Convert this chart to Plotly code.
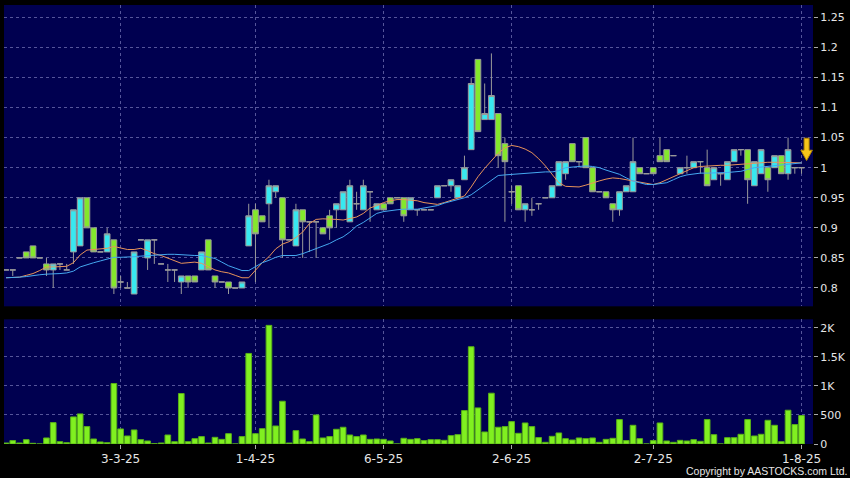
import plotly.graph_objects as go

# ---------------- data ----------------
bar_index = list(range(119))

opens = [0.83,0.83,0.85,0.86,0.87,0.85,0.84,0.83,0.84,0.83,
         0.86,0.87,0.95,0.90,0.86,0.86,0.88,0.81,0.80,0.79,
         0.88,0.85,0.88,0.84,0.83,0.83,0.81,0.82,0.82,0.83,
         0.88,0.82,0.81,0.81,0.80,0.80,0.87,0.93,0.92,0.94,
         0.96,0.95,0.88,0.87,0.93,0.91,0.91,0.90,0.92,0.93,
         0.93,0.91,0.94,0.93,0.96,0.93,0.94,0.95,0.95,0.95,
         0.93,0.93,0.93,0.93,0.95,0.97,0.97,0.95,0.98,1.03,
         1.18,1.08,1.08,1.09,1.04,0.96,0.97,0.93,0.93,0.94,
         0.95,0.95,0.97,0.99,1.04,1.01,1.05,1.00,0.96,0.96,
         0.94,0.93,0.96,0.96,1.00,0.99,1.00,1.02,1.03,1.02,
         0.99,1.00,1.00,1.01,1.00,0.98,0.99,0.98,1.01,1.03,
         1.03,0.97,0.99,1.00,1.00,1.02,0.99,1.00,1.00]
highs = [0.83,0.83,0.85,0.86,0.87,0.85,0.85,0.84,0.84,0.84,
         0.93,0.95,0.95,0.90,0.86,0.90,0.88,0.82,0.81,0.86,
         0.88,0.88,0.88,0.84,0.84,0.83,0.82,0.82,0.82,0.86,
         0.88,0.82,0.81,0.81,0.80,0.81,0.94,0.94,0.92,0.98,
         0.97,0.95,0.88,0.94,0.93,0.91,0.91,0.90,0.93,0.94,
         0.96,0.98,0.96,0.98,0.96,0.94,0.94,0.95,0.95,0.95,
         0.95,0.93,0.93,0.93,0.97,0.97,0.98,0.97,1.02,1.15,
         1.18,1.14,1.19,1.09,1.05,0.97,0.97,0.94,0.95,0.94,
         0.95,0.97,1.01,1.01,1.04,1.01,1.05,1.00,0.96,0.96,
         0.94,0.96,0.97,1.05,1.00,0.99,1.00,1.05,1.03,1.02,
         1.00,1.02,1.01,1.01,1.03,1.00,0.99,1.01,1.03,1.03,
         1.03,1.01,1.03,1.00,1.02,1.02,1.05,1.00,1.00]
lows = [0.83,0.82,0.85,0.85,0.85,0.85,0.82,0.80,0.83,0.83,
        0.84,0.87,0.90,0.86,0.86,0.86,0.79,0.80,0.80,0.79,
        0.88,0.83,0.84,0.84,0.81,0.81,0.79,0.80,0.81,0.83,
        0.83,0.80,0.81,0.79,0.80,0.80,0.87,0.81,0.91,0.90,
        0.95,0.85,0.88,0.87,0.85,0.86,0.85,0.89,0.88,0.90,
        0.93,0.91,0.93,0.93,0.91,0.93,0.93,0.94,0.95,0.91,
        0.93,0.92,0.93,0.93,0.95,0.97,0.96,0.95,0.98,1.03,
        1.06,1.08,1.08,1.00,0.91,0.94,0.93,0.91,0.92,0.93,
        0.95,0.95,0.97,0.98,1.01,1.00,1.00,0.96,0.96,0.95,
        0.91,0.92,0.96,0.96,0.99,0.99,0.99,1.01,1.01,1.02,
        0.99,0.99,1.00,0.99,0.97,0.98,0.97,0.98,1.01,1.02,
        0.94,0.97,0.99,0.96,1.00,0.99,0.98,0.99,0.99]
closes = [0.83,0.83,0.85,0.85,0.85,0.85,0.83,0.84,0.84,0.83,
          0.93,0.95,0.90,0.86,0.86,0.89,0.80,0.81,0.80,0.86,
          0.88,0.88,0.88,0.84,0.83,0.83,0.82,0.81,0.81,0.86,
          0.83,0.81,0.81,0.80,0.80,0.81,0.92,0.89,0.91,0.97,
          0.97,0.88,0.88,0.93,0.91,0.91,0.91,0.89,0.90,0.94,
          0.96,0.97,0.94,0.97,0.96,0.94,0.93,0.94,0.95,0.92,
          0.95,0.93,0.93,0.93,0.97,0.97,0.98,0.97,1.00,1.14,
          1.06,1.09,1.12,1.02,1.01,0.96,0.93,0.94,0.93,0.94,
          0.95,0.97,1.01,1.01,1.01,1.01,1.00,0.96,0.96,0.95,
          0.93,0.96,0.97,1.01,0.99,0.99,0.99,1.01,1.01,1.02,
          1.00,1.00,1.01,1.01,0.97,1.00,0.99,1.01,1.03,1.03,
          0.98,1.01,1.03,0.98,1.02,0.99,1.03,1.00,1.00]
volumes = [17,58,17,75,12,0,104,368,40,23,
           466,518,299,86,35,23,1041,259,138,242,
           75,52,6,17,155,40,868,40,92,127,
           17,115,80,178,0,127,1558,178,264,2041,
           310,736,17,230,86,40,500,104,127,253,
           288,155,127,155,80,86,80,52,0,98,
           80,92,58,75,75,63,144,161,575,1673,
           621,207,874,288,299,385,184,362,299,110,
           29,132,190,92,69,104,92,104,29,80,
           98,420,58,322,92,0,58,362,52,29,
           63,52,75,46,420,161,0,109,109,167,
           420,138,167,408,322,40,581,334,489]
ma_short = [0.817,0.817,0.818,0.821,0.824,0.829,0.835,0.835,0.835,0.836,
            0.842,0.855,0.863,0.864,0.865,0.866,0.869,0.867,0.864,0.864,
            0.866,0.862,0.857,0.854,0.850,0.845,0.841,0.842,0.843,0.841,
            0.836,0.830,0.827,0.825,0.821,0.817,0.817,0.830,0.842,0.852,
            0.865,0.873,0.877,0.884,0.893,0.907,0.914,0.915,0.915,0.914,
            0.913,0.915,0.918,0.924,0.933,0.937,0.942,0.945,0.947,0.947,
            0.946,0.945,0.942,0.940,0.939,0.942,0.946,0.950,0.953,0.968,
            0.985,0.999,1.011,1.024,1.033,1.037,1.035,1.031,1.025,1.015,
            1.003,0.989,0.975,0.969,0.968,0.968,0.971,0.975,0.978,0.981,
            0.983,0.982,0.980,0.978,0.976,0.974,0.972,0.975,0.980,0.985,
            0.990,0.996,1.000,1.002,1.003,1.003,1.004,1.004,1.005,1.006,
            1.007,1.008,1.008,1.009,1.009,1.009,1.009,1.009,1.008]
ma_long = [0.817,0.817,0.818,0.819,0.821,0.822,0.823,0.823,0.824,0.825,
           0.828,0.835,0.839,0.842,0.845,0.848,0.851,0.851,0.851,0.852,
           0.853,0.854,0.855,0.855,0.856,0.856,0.855,0.855,0.854,0.854,
           0.852,0.849,0.843,0.837,0.833,0.829,0.829,0.835,0.842,0.846,
           0.851,0.854,0.854,0.854,0.857,0.861,0.865,0.869,0.874,0.880,
           0.885,0.893,0.903,0.909,0.917,0.924,0.927,0.929,0.930,0.931,
           0.931,0.931,0.933,0.935,0.937,0.941,0.944,0.947,0.950,0.955,
           0.963,0.971,0.980,0.987,0.988,0.989,0.990,0.991,0.992,0.992,
           0.993,0.993,0.995,1.000,1.001,1.002,1.003,1.002,1.000,0.996,
           0.992,0.989,0.983,0.978,0.975,0.972,0.972,0.973,0.975,0.980,
           0.985,0.988,0.990,0.991,0.991,0.991,0.991,0.992,0.993,0.994,
           0.997,1.000,1.001,1.002,1.003,1.004,1.005,1.006,1.008]

date_tick_index = [17, 37, 56, 75, 96, 118]
date_tick_labels = ["3-3-25", "1-4-25", "6-5-25", "2-6-25", "2-7-25", "1-8-25"]
price_ticks = [0.8, 0.85, 0.9, 0.95, 1.0, 1.05, 1.1, 1.15, 1.2, 1.25]
price_tick_labels = ["0.8", "0.85", "0.9", "0.95", "1", "1.05", "1.1", "1.15", "1.2", "1.25"]
vol_ticks = [0, 500, 1000, 1500, 2000]
vol_tick_labels = ["0", "500", "1K", "1.5K", "2K"]

# ---------------- styling ----------------
NAVY = "#000050"
GRID = "#55559a"
CYAN = "#38e8f0"
GREEN = "#84e82c"
EDGE = "#9a9a9a"
TXT = "#e6e6e6"
FONT = "DejaVu Sans"

fig = go.Figure()

fig.add_trace(go.Candlestick(
    x=bar_index, open=opens, high=highs, low=lows, close=closes,
    increasing=dict(fillcolor=CYAN, line=dict(color=EDGE, width=1)),
    decreasing=dict(fillcolor=GREEN, line=dict(color=EDGE, width=1)),
    whiskerwidth=0, xaxis="x", yaxis="y", showlegend=False, hoverinfo="skip",
))
fig.add_trace(go.Scatter(x=bar_index, y=ma_short, mode="lines",
                         line=dict(color="#e8935a", width=1),
                         xaxis="x", yaxis="y", showlegend=False, hoverinfo="skip"))
fig.add_trace(go.Scatter(x=bar_index, y=ma_long, mode="lines",
                         line=dict(color="#45a8f0", width=1),
                         xaxis="x", yaxis="y", showlegend=False, hoverinfo="skip"))
fig.add_trace(go.Bar(x=bar_index, y=volumes,
                     marker=dict(color="#80f020", line=dict(color="#58b018", width=1)),
                     xaxis="x2", yaxis="y2", showlegend=False, hoverinfo="skip"))

# yellow arrow above the latest bar
ax = bar_index[-1] + 0.75
tip = closes[-1] + 0.012
path = (f"M {ax-0.37},{tip+0.037} L {ax+0.37},{tip+0.037} L {ax+0.37},{tip+0.017} "
        f"L {ax+0.85},{tip+0.017} L {ax},{tip} L {ax-0.85},{tip+0.017} "
        f"L {ax-0.37},{tip+0.017} Z")
fig.add_shape(type="path", path=path, xref="x", yref="y",
              fillcolor="#f7c61a", line=dict(color="#b88a00", width=1), layer="above")

xr = [-0.3, 119.7]
common_x = dict(range=xr, showgrid=True, gridcolor=GRID, griddash="3px,3px", gridwidth=1,
                tickvals=date_tick_index, zeroline=False, showline=False)

fig.update_layout(
    width=850, height=478,
    margin=dict(l=4, r=35, t=5, b=34),
    paper_bgcolor="black", plot_bgcolor=NAVY,
    font=dict(family=FONT, color=TXT, size=11),
    bargap=0.16, boxgap=0.08, boxgroupgap=0.08,
    xaxis=dict(**common_x, domain=[0, 1], anchor="y", showticklabels=False, ticks="",
               rangeslider=dict(visible=False)),
    xaxis2=dict(**common_x, domain=[0, 1], anchor="y2", matches="x",
                ticktext=date_tick_labels, ticks="outside", ticklen=4, tickcolor="#aaaaaa",
                tickfont=dict(size=12, family=FONT, color=TXT)),
    yaxis=dict(domain=[0.3136, 1], range=[0.7695, 1.2705], side="right",
               tickvals=price_ticks, ticktext=price_tick_labels,
               ticks="outside", ticklen=4, tickcolor="#aaaaaa",
               showgrid=True, gridcolor=GRID, griddash="3px,3px", zeroline=False,
               tickfont=dict(size=11, family=FONT, color=TXT)),
    yaxis2=dict(domain=[0, 0.284], range=[0, 2145], side="right",
                tickvals=vol_ticks, ticktext=vol_tick_labels,
                ticks="outside", ticklen=4, tickcolor="#aaaaaa",
                showgrid=True, gridcolor=GRID, griddash="3px,3px", zeroline=False,
                tickfont=dict(size=11, family=FONT, color=TXT)),
    annotations=[dict(text="Copyright by AASTOCKS.com Ltd.", xref="paper", yref="paper",
                      x=1.0, y=-0.0615, xanchor="right", yanchor="middle", showarrow=False,
                      xshift=36, font=dict(size=10.5, family="Liberation Sans", color=TXT))],
)

fig.write_html("out.html",
               config={"displayModeBar": False, "staticPlot": True},
               post_script="document.body.style.margin='0';document.body.style.background='black';")
